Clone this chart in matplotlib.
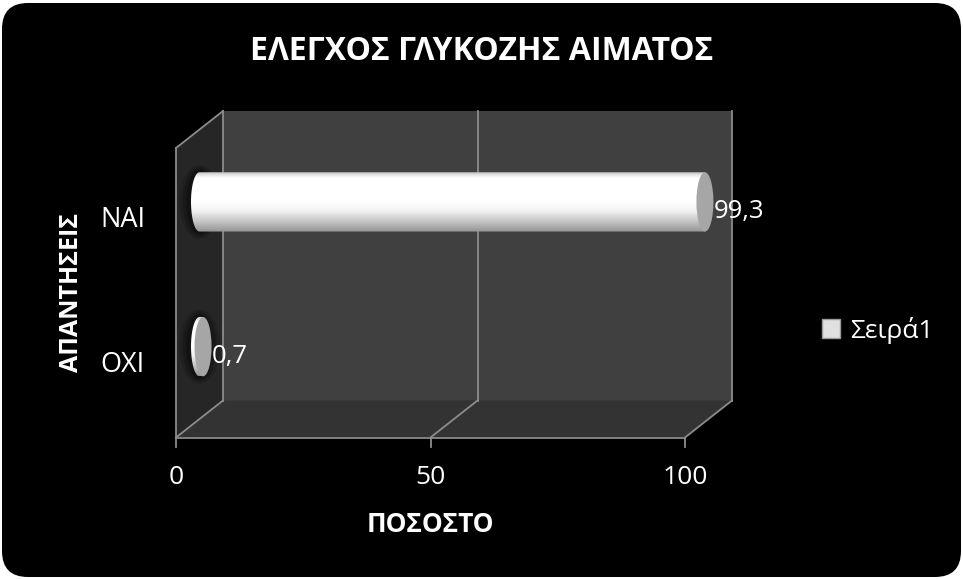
import numpy as np
import matplotlib.pyplot as plt
import matplotlib.transforms as mtransforms
from matplotlib.patches import FancyBboxPatch, Ellipse, Polygon, Patch, PathPatch
from matplotlib.path import Path
from matplotlib.colors import LinearSegmentedColormap

plt.rcParams['font.family'] = ['Open Sans', 'Noto Sans', 'DejaVu Sans']

# data
categories = ["ΟΧΙ", "ΝΑΙ"]
values = [0.7, 99.3]
value_labels = ["0,7", "99,3"]
x_ticks = [0, 50, 100]
x_tick_labels = ["0", "50", "100"]
series_name = "Σειρά1"
title = "ΕΛΕΓΧΟΣ ΓΛΥΚΟΖΗΣ ΑΙΜΑΤΟΣ"
x_title = "ΠΟΣΟΣΤΟ"
y_title = "ΑΠΑΝΤΗΣΕΙΣ"

W, H = 963, 579
fig = plt.figure(figsize=(W / 100, H / 100), dpi=100)
fig.patch.set_facecolor("white")

# rounded black card behind everything
bg = fig.add_axes([0, 0, 1, 1])
bg.set_xlim(0, W)
bg.set_ylim(H, 0)
bg.axis("off")
bg.add_patch(FancyBboxPatch((2, 3), W - 4, H - 5,
                            boxstyle="round,pad=0,rounding_size=26",
                            facecolor="black", edgecolor="none"))

# the axes sits on the middle depth plane of the 3d box
DX, DY = 23.5, 18.5
ax = fig.add_axes([199.5 / W, 1 - 419 / H, 509 / W, 289.5 / H])
ax.set_xlim(0, 100)
ax.set_ylim(-0.5, len(categories) - 0.5)
ax.axis("off")
ax.set_zorder(2)

y_lo, y_hi = -0.5, len(categories) - 0.5
ident = mtransforms.IdentityTransform()


def proj(v, c, d):
    # d = -1 front plane, 0 middle, +1 back wall
    px, py = ax.transData.transform((v, c))
    return px + d * DX, py + d * DY


def shape(pts, color):
    ax.add_patch(Polygon(pts, closed=True, facecolor=color, edgecolor="none",
                         transform=ident, clip_on=False, zorder=0))


def seg(p, q):
    ax.add_line(plt.Line2D([p[0], q[0]], [p[1], q[1]], color="#8c8c8c", lw=1.3,
                           transform=ident, clip_on=False, zorder=1))


# walls and floor
shape([proj(0, y_lo, 1), proj(100, y_lo, 1), proj(100, y_hi, 1), proj(0, y_hi, 1)], "#404040")
shape([proj(0, y_lo, -1), proj(100, y_lo, -1), proj(100, y_lo, 1), proj(0, y_lo, 1)], "#333333")
shape([proj(0, y_lo, -1), proj(0, y_lo, 1), proj(0, y_hi, 1), proj(0, y_hi, -1)], "#262626")

seg(proj(0, y_lo, -1), proj(0, y_hi, -1))
seg(proj(0, y_hi, -1), proj(0, y_hi, 1))
seg(proj(0, y_lo, -1), proj(100, y_lo, -1))
for t in x_ticks:
    seg(proj(t, y_lo, 1), proj(t, y_hi, 1))
    seg(proj(t, y_lo, -1), proj(t, y_lo, 1))
    fx, fy = proj(t, y_lo, -1)
    seg((fx, fy), (fx, fy - 9))

# cylinders
body_cmap = LinearSegmentedColormap.from_list(
    "cyl", [(0.0, "#939393"), (0.15, "#bdbdbd"), (0.35, "#f2f2f2"),
            (0.5, "#ffffff"), (0.9, "#ffffff"), (0.96, "#e2e2e2"), (1.0, "#bcbcbc")])
grad = np.linspace(0, 1, 256).reshape(-1, 1)
bar_h = 0.41
cap_w = 2 * 8.5 / (ax.transData.transform((1, 0))[0] - ax.transData.transform((0, 0))[0])

for i, v in enumerate(values):
    y0, y1 = i - bar_h / 2, i + bar_h / 2
    # soft dark halo behind each bar
    for k, a in zip([1.0, 0.7, 0.4], [0.15, 0.2, 0.25]):
        ax.add_patch(Ellipse((0, i), cap_w * (1 + 1.4 * k), bar_h * (1 + 0.25 * k),
                             facecolor="black", edgecolor="none", alpha=a,
                             zorder=2, clip_on=False))
    th = np.linspace(np.pi / 2, 3 * np.pi / 2, 60)
    arc = np.column_stack([cap_w / 2 * np.cos(th), i + bar_h / 2 * np.sin(th)])
    verts = np.vstack([arc, [[v, y0], [v, y1], arc[0]]])
    clip = PathPatch(Path(verts, closed=True), transform=ax.transData)
    im = ax.imshow(grad, cmap=body_cmap, origin="lower", aspect="auto",
                   extent=[-cap_w / 2, v, y0, y1], zorder=3, interpolation="bilinear")
    im.set_clip_box(fig.bbox)
    im.set_clip_path(clip)
    ax.add_patch(Ellipse((v, i), cap_w, bar_h, facecolor="#a6a6a6",
                         edgecolor="none", zorder=4, clip_on=False))
    lab_tr = mtransforms.offset_copy(ax.transData, fig=fig, x=0, y=-10, units="dots")
    ax.text(v + cap_w / 2, i, value_labels[i], transform=lab_tr, color="white",
            fontsize=18.5, ha="left", va="center", zorder=5)

ax.set_xlim(0, 100)
ax.set_ylim(y_lo, y_hi)

# tick labels sit on the front plane
for i, c in enumerate(categories):
    tr = mtransforms.offset_copy(ax.transData, fig=fig, x=-DX - 31, y=-DY, units="dots")
    ax.text(0, i, c, transform=tr, color="white", fontsize=19.5, ha="right", va="center")
for t, s in zip(x_ticks, x_tick_labels):
    tr = mtransforms.offset_copy(ax.transData, fig=fig, x=-DX, y=-DY - 40, units="dots")
    ax.text(t, y_lo, s, transform=tr, color="white", fontsize=19, ha="center", va="center")

fig.text(482 / W, 1 - 52 / H, title, color="white", fontsize=23, fontweight="bold",
         ha="center", va="center")
fig.text(430 / W, 1 - 525 / H, x_title, color="white", fontsize=19, fontweight="bold",
         ha="center", va="center")
fig.text(72 / W, 1 - 292 / H, y_title, color="white", fontsize=18, fontweight="bold",
         ha="center", va="center", rotation=90)

fig.legend(handles=[Patch(facecolor="#e0e0e0", edgecolor="#9a9a9a")], labels=[series_name],
           loc="center left", bbox_to_anchor=(822 / W, 1 - 330 / H), frameon=False,
           borderpad=0, borderaxespad=0,
           handlelength=0.7, handleheight=0.7, handletextpad=0.35, fontsize=19,
           labelcolor="white")

fig.savefig("out.png", dpi=100, facecolor=fig.get_facecolor())
